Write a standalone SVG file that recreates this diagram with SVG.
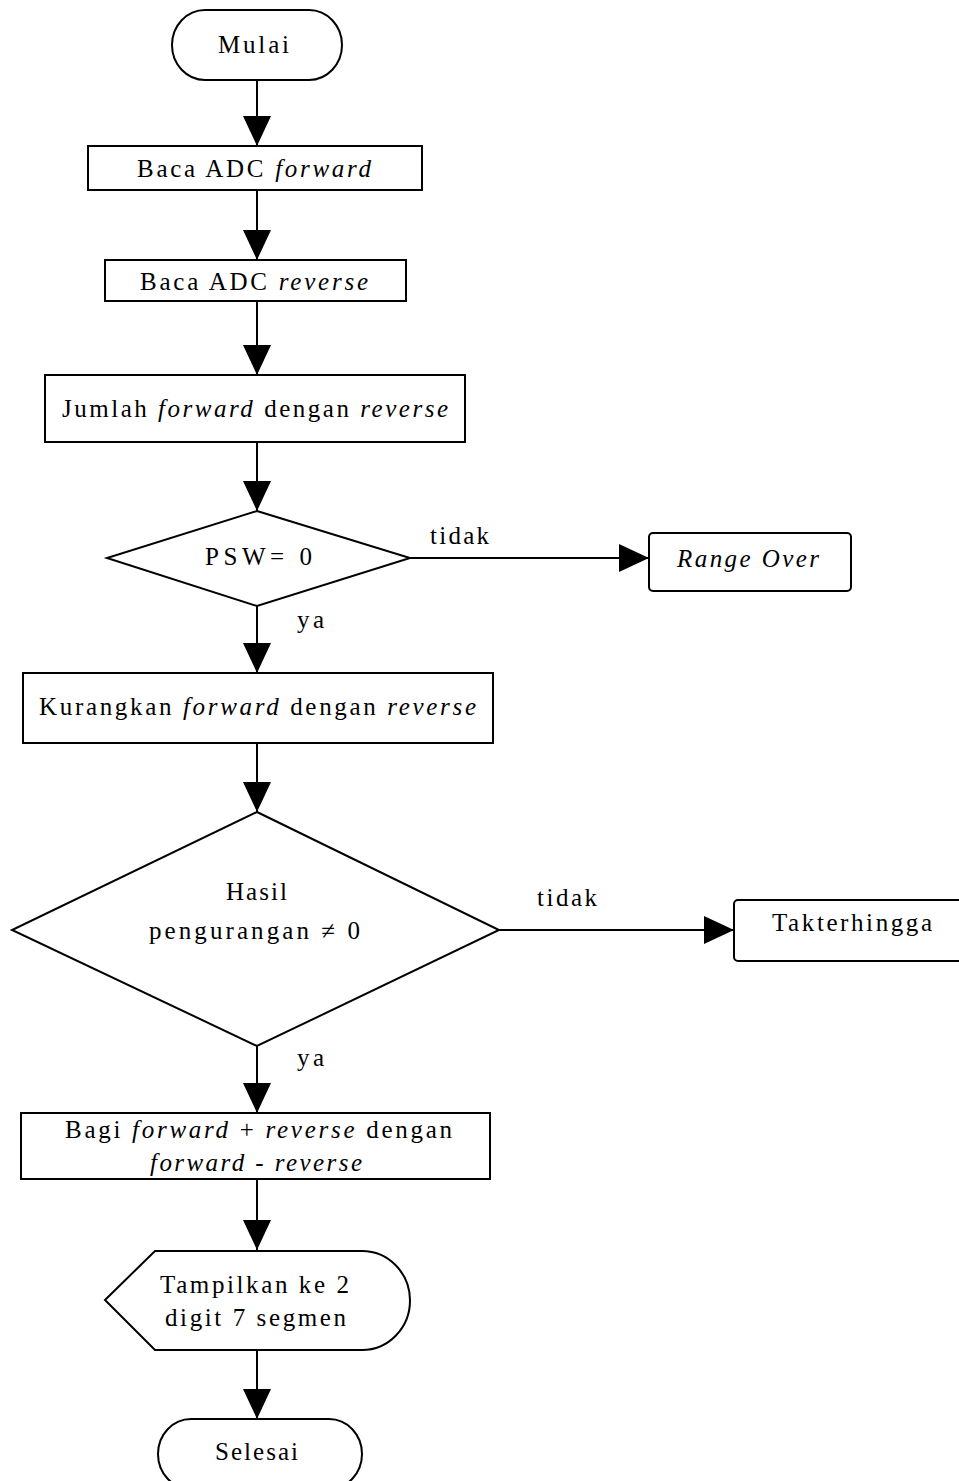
<svg xmlns="http://www.w3.org/2000/svg" width="959" height="1481" viewBox="0 0 959 1481">
<style>
.s{fill:#fff;stroke:#000;stroke-width:2}
.c{fill:none;stroke:#000;stroke-width:2}
.t{font-family:"Liberation Serif","Times New Roman",serif;font-size:25px;fill:#000}
.i{font-style:italic}
</style>
<defs>
<marker id="ah" viewBox="0 0 30 28" refX="30" refY="14" markerWidth="30" markerHeight="28" markerUnits="userSpaceOnUse" orient="auto">
<path d="M0,0 L30,14 L0,28 z" fill="#000"/>
</marker>
</defs>
<rect width="959" height="1481" fill="#fff"/>
<g id="connectors">
<line class="c" x1="257" y1="80" x2="257" y2="146" marker-end="url(#ah)"/>
<line class="c" x1="257" y1="190" x2="257" y2="260" marker-end="url(#ah)"/>
<line class="c" x1="257" y1="301" x2="257" y2="375" marker-end="url(#ah)"/>
<line class="c" x1="257" y1="442" x2="257" y2="511" marker-end="url(#ah)"/>
<line class="c" x1="410" y1="558" x2="649" y2="558" marker-end="url(#ah)"/>
<line class="c" x1="257" y1="606" x2="257" y2="673" marker-end="url(#ah)"/>
<line class="c" x1="257" y1="743" x2="257" y2="812" marker-end="url(#ah)"/>
<line class="c" x1="499" y1="930" x2="734" y2="930" marker-end="url(#ah)"/>
<line class="c" x1="257" y1="1046" x2="257" y2="1113" marker-end="url(#ah)"/>
<line class="c" x1="257" y1="1179" x2="257" y2="1250" marker-end="url(#ah)"/>
<line class="c" x1="257" y1="1351" x2="257" y2="1419" marker-end="url(#ah)"/>
<text class="t" x="430" y="544" textLength="59" lengthAdjust="spacing">tidak</text>
<text class="t" x="297" y="628" textLength="27" lengthAdjust="spacing">ya</text>
<text class="t" x="537" y="906" textLength="60" lengthAdjust="spacing">tidak</text>
<text class="t" x="297" y="1066" textLength="27" lengthAdjust="spacing">ya</text>
</g>
<g id="mulai">
<rect class="s" x="172" y="10" width="170" height="70" rx="33" ry="35"/>
<text class="t" x="218" y="53" textLength="71" lengthAdjust="spacing">Mulai</text>
</g>
<g id="baca-forward">
<rect class="s" x="88" y="146" width="334" height="44"/>
<text class="t" x="137" y="177" textLength="234" lengthAdjust="spacing">Baca ADC <tspan class="i">forward</tspan></text>
</g>
<g id="baca-reverse">
<rect class="s" x="105" y="260" width="301" height="41"/>
<text class="t" x="140" y="290" textLength="228" lengthAdjust="spacing">Baca ADC <tspan class="i">reverse</tspan></text>
</g>
<g id="jumlah">
<rect class="s" x="45" y="375" width="420" height="67"/>
<text class="t" x="62" y="417" textLength="386" lengthAdjust="spacing">Jumlah <tspan class="i">forward</tspan> dengan <tspan class="i">reverse</tspan></text>
</g>
<g id="psw">
<polygon class="s" points="257,511 410,558 257,606 107,558"/>
<text class="t" x="205" y="565" textLength="107" lengthAdjust="spacing">PSW= 0</text>
</g>
<g id="range-over">
<rect class="s" x="649" y="533" width="202" height="58" rx="4"/>
<text class="t i" x="677" y="567" textLength="142" lengthAdjust="spacing">Range Over</text>
</g>
<g id="kurangkan">
<rect class="s" x="23" y="673" width="470" height="70"/>
<text class="t" x="39" y="715" textLength="437" lengthAdjust="spacing">Kurangkan <tspan class="i">forward</tspan> dengan <tspan class="i">reverse</tspan></text>
</g>
<g id="hasil">
<polygon class="s" points="257,812 499,930 257,1046 12,930"/>
<text class="t" x="226" y="900" textLength="61" lengthAdjust="spacing">Hasil</text>
<text class="t" x="149" y="939" textLength="211" lengthAdjust="spacing">pengurangan ≠ 0</text>
</g>
<g id="takterhingga">
<rect class="s" x="734" y="900" width="240" height="61" rx="4"/>
<text class="t" x="772" y="931" textLength="160" lengthAdjust="spacing">Takterhingga</text>
</g>
<g id="bagi">
<rect class="s" x="21" y="1113" width="469" height="66"/>
<text class="t" x="65" y="1138" textLength="387" lengthAdjust="spacing">Bagi <tspan class="i">forward</tspan> + <tspan class="i">reverse</tspan> dengan</text>
<text class="t i" x="150" y="1171" textLength="212" lengthAdjust="spacing">forward - reverse</text>
</g>
<g id="tampilkan">
<path class="s" d="M105,1300 L155,1251 L362,1251 A48,49.5 0 0 1 362,1350 L155,1350 Z"/>
<text class="t" x="160" y="1293" textLength="189" lengthAdjust="spacing">Tampilkan ke 2</text>
<text class="t" x="165" y="1326" textLength="181" lengthAdjust="spacing">digit 7 segmen</text>
</g>
<g id="selesai">
<rect class="s" x="158" y="1419" width="204" height="70" rx="33" ry="35"/>
<text class="t" x="215" y="1460" textLength="83" lengthAdjust="spacing">Selesai</text>
</g>
</svg>
